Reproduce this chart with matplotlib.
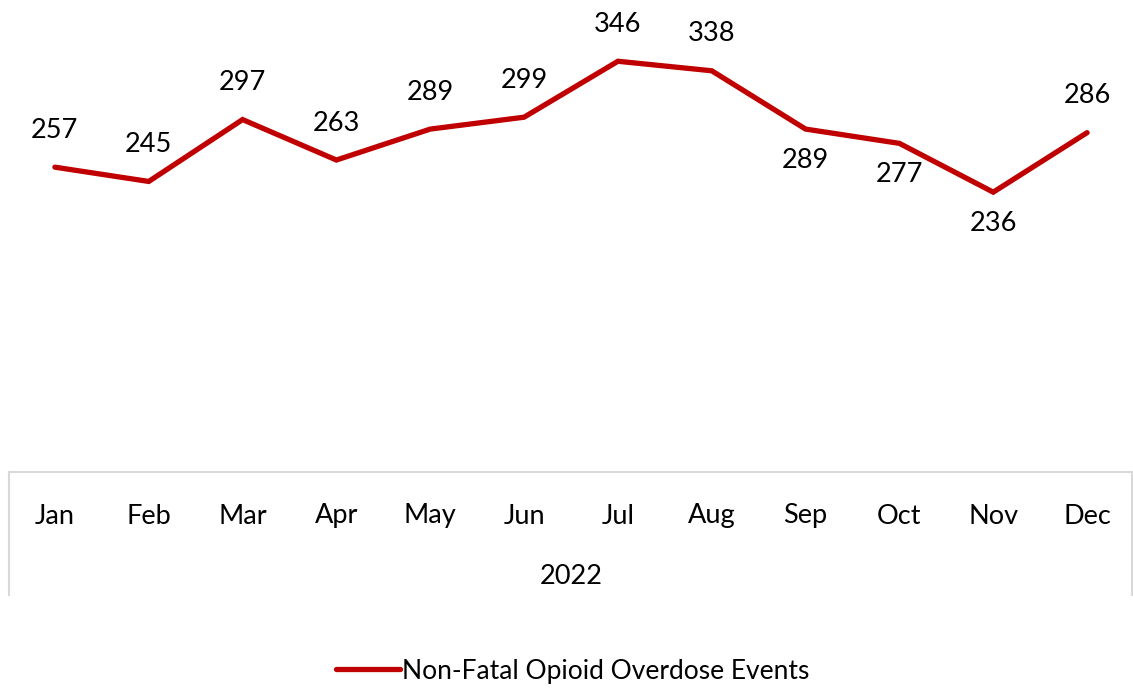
import matplotlib.pyplot as plt
from matplotlib.lines import Line2D

months = ['Jan', 'Feb', 'Mar', 'Apr', 'May', 'Jun', 'Jul', 'Aug', 'Sep', 'Oct', 'Nov', 'Dec']
events = [257, 245, 297, 263, 289, 299, 346, 338, 289, 277, 236, 286]
label_below = [False, False, False, False, False, False, False, False, True, True, True, False]
year = '2022'
series_name = 'Non-Fatal Opioid Overdose Events'

plt.rcParams['font.family'] = ['Lato', 'DejaVu Sans']
red = '#C00000'
grey = '#D9D9D9'

W, H = 1133, 688
fig = plt.figure(figsize=(W / 100, H / 100), dpi=100)
# plot area: y=0 at pixel 473, y=400 at pixel -3
ax = fig.add_axes([8 / W, (H - 473) / H, 1126 / W, 476 / H])
x = list(range(len(months)))
ax.plot(x, events, color=red, lw=3.8, solid_capstyle='round', solid_joinstyle='miter', clip_on=False)
ax.set_xlim(-0.5, len(months) - 0.5)
ax.set_ylim(0, 400)
ax.axis('off')

for xi, v, below in zip(x, events, label_below):
    off = -31 if below else 37
    ax.annotate(str(v), (xi, v), xytext=(0, off), textcoords='offset pixels',
                ha='center', va='center', fontsize=19.5, color='black')

# category axis box
fig.add_artist(Line2D([9 / W, 1132 / W], [(H - 472) / H] * 2, color=grey, lw=1.5))
fig.add_artist(Line2D([9 / W] * 2, [(H - 472) / H, (H - 595) / H], color=grey, lw=1.5))
fig.add_artist(Line2D([1132 / W] * 2, [(H - 472) / H, (H - 595) / H], color=grey, lw=1.5))

for xi, m in zip(x, months):
    ax.annotate(m, (xi, 0), xytext=(0, -43), textcoords='offset pixels',
                ha='center', va='center', fontsize=19.5, color='black', annotation_clip=False)
fig.text(571 / W, (H - 576) / H, year, ha='center', va='center', fontsize=19.5)

handle = Line2D([], [], color=red, lw=3.8, solid_capstyle='round')
fig.legend([handle], [series_name], loc='center', bbox_to_anchor=(573 / W, (H - 671) / H),
           frameon=False, fontsize=19, handlelength=2.4, handletextpad=0.1)

fig.savefig('out.png', dpi=100)
